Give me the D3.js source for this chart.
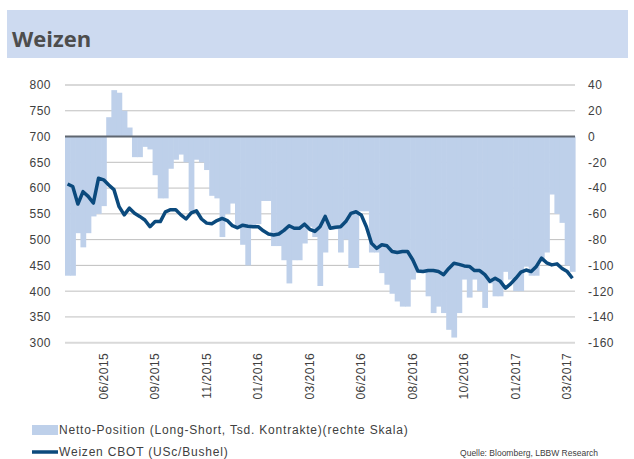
<!DOCTYPE html>
<html>
<head>
<meta charset="utf-8">
<script src="https://cdn.jsdelivr.net/npm/d3@7"></script>
<style>
  body { margin: 0; background: #fff; }
  svg { display: block; }
</style>
</head>
<body>
<svg id="chart" width="634" height="459"></svg>
<script>
// Netto-Position (Tsd. Kontrakte), rechte Skala – wöchentlich
const netPosition = [
  -108, -108, -75, -86, -75, -62, -60, -54, 15, 36,
  34, 20, 7, -16, -16, -8, -10, -30, -48, -48,
  -25, -18, -14, -20, -58, -18, -20, -26, -46, -48,
  -78, -60, -52, -70, -84, -100, -70, -68, -50, -50,
  -85, -85, -96, -114, -96, -96, -83, -70, -78, -116,
  -90, -72, -72, -90, -80, -102, -102, -58, -58, -90,
  -90, -106, -115, -122, -128, -132, -132, -111, -106, -106,
  -124, -137, -132, -137, -150, -156, -137, -111, -125, -111,
  -120, -133, -114, -124, -124, -105, -111, -120, -120, -101,
  -108, -108, -97, -90, -45, -60, -67, -100, -105
];
// Weizen CBOT (USc/Bushel), linke Skala
const wheatPrice = [
  608, 603, 569, 593, 584, 571, 619, 616, 606, 597,
  564, 548, 561, 551, 545, 538, 525, 535, 535, 554,
  558, 558, 548, 540, 552, 556, 540, 532, 531, 537,
  541, 537, 527, 523, 528, 526, 525, 525, 517, 511,
  509, 511, 518, 527, 522, 522, 530, 520, 516, 525,
  545, 522, 524, 525, 535, 551, 554, 548, 525, 493,
  483, 490, 488, 477, 475, 477, 477, 461, 439, 438,
  440, 440, 438, 432, 444, 454, 452, 449, 448, 440,
  440, 432, 419, 425, 419, 406, 414, 425, 437, 441,
  438, 448, 464, 455, 451, 453, 444, 438, 425
];
const tickDates = ["2015-06-23", "2015-09-01", "2015-11-10", "2016-01-19", "2016-03-29",
  "2016-06-07", "2016-08-16", "2016-10-25", "2017-01-03", "2017-03-14"];
const leftTicks = [300, 350, 400, 450, 500, 550, 600, 650, 700, 750, 800];
const rightTicks = [-160, -140, -120, -100, -80, -60, -40, -20, 0, 20, 40];

const fmtKey = d3.utcFormat("%Y-%m-%d");
const parseKey = d3.utcParse("%Y-%m-%d");
const weeks = d3.utcTuesday.range(Date.UTC(2015, 4, 5), Date.UTC(2017, 2, 22)).map(fmtKey);

const svg = d3.select("#chart");
const plotLeft = 65, plotRight = 575, plotTop = 85, plotBottom = 342.7;
const font = "'Liberation Sans', Arial, sans-serif";

// Titelband
svg.append("rect").attr("x", 7).attr("y", 10).attr("width", 621).attr("height", 48).attr("fill", "#cddaf0");
svg.append("text").attr("x", 12).attr("y", 47).text("Weizen")
  .attr("font-family", "'Open Sans', 'Noto Sans', sans-serif").attr("font-weight", 700)
  .attr("font-size", 22).attr("fill", "#4d4d4d");

const x = d3.scaleBand().domain(weeks).range([plotLeft, plotRight]).padding(0);
const yL = d3.scaleLinear().domain([300, 800]).range([plotBottom, plotTop]);
const yR = d3.scaleLinear().domain([-160, 40]).range([plotBottom, plotTop]);
const bw = x.bandwidth();

// Gitterlinien
svg.append("g").selectAll("line").data(leftTicks).join("line")
  .attr("x1", plotLeft).attr("x2", plotRight)
  .attr("y1", d => yL(d)).attr("y2", d => yL(d))
  .attr("stroke", d => (d === 800 || d === 300) ? "#d9d9d9" : "#bfbfbf")
  .attr("stroke-width", d => (d === 800 || d === 300) ? 2 : 1);

// Balken Netto-Position
svg.append("g").selectAll("rect").data(netPosition).join("rect")
  .attr("x", (d, i) => x(weeks[i]))
  .attr("width", bw + 0.6)
  .attr("y", d => yR(Math.max(0, d)))
  .attr("height", d => Math.abs(yR(d) - yR(0)))
  .attr("fill", "#bed0ea");

// Nulllinie
svg.append("line").attr("x1", plotLeft).attr("x2", plotRight)
  .attr("y1", yR(0)).attr("y2", yR(0))
  .attr("stroke", "#5f6670").attr("stroke-width", 2);

// Weizenpreis
const line = d3.line()
  .x((d, i) => x(weeks[i]) + bw / 2)
  .y(d => yL(d))
  .curve(d3.curveLinear);
svg.append("path").datum(wheatPrice).attr("d", line)
  .attr("fill", "none").attr("stroke", "#0b4a7d").attr("stroke-width", 3.5)
  .attr("stroke-linejoin", "round");

// Achsen
const axL = svg.append("g").attr("transform", `translate(${plotLeft},0)`)
  .call(d3.axisLeft(yL).tickValues(leftTicks).tickSize(0).tickPadding(14));
const axR = svg.append("g").attr("transform", `translate(${plotRight},0)`)
  .call(d3.axisRight(yR).tickValues(rightTicks).tickSize(0).tickPadding(13)
    .tickFormat(d => String(d)));
const axX = svg.append("g").attr("transform", `translate(0,${plotBottom})`)
  .call(d3.axisBottom(x).tickValues(tickDates).tickSize(0)
    .tickFormat(d => d3.utcFormat("%m/%Y")(parseKey(d))));
[axL, axR, axX].forEach(g => {
  g.select(".domain").remove();
  g.selectAll("text").attr("font-family", font).attr("font-size", 12)
    .attr("fill", "#404040").attr("letter-spacing", 0.5);
});
axX.selectAll("text")
  .attr("transform", "rotate(-90)")
  .attr("text-anchor", "end")
  .attr("x", -10).attr("y", 0).attr("dy", "0.35em");

// Legende
const lg = svg.append("g").attr("font-family", font).attr("font-size", 12).attr("fill", "#404040");
lg.append("rect").attr("x", 32).attr("y", 425).attr("width", 26).attr("height", 10).attr("fill", "#bed0ea");
lg.append("text").attr("x", 59).attr("y", 434).attr("letter-spacing", 0.8)
  .text("Netto-Position (Long-Short, Tsd. Kontrakte)(rechte Skala)");
lg.append("line").attr("x1", 32).attr("x2", 58).attr("y1", 452).attr("y2", 452)
  .attr("stroke", "#0b4a7d").attr("stroke-width", 3.5);
lg.append("text").attr("x", 59).attr("y", 456).attr("letter-spacing", 0.8)
  .text("Weizen CBOT (USc/Bushel)");
lg.append("text").attr("x", 598).attr("y", 456).attr("text-anchor", "end")
  .attr("font-size", 8.5).text("Quelle: Bloomberg, LBBW Research");
</script>
</body>
</html>
